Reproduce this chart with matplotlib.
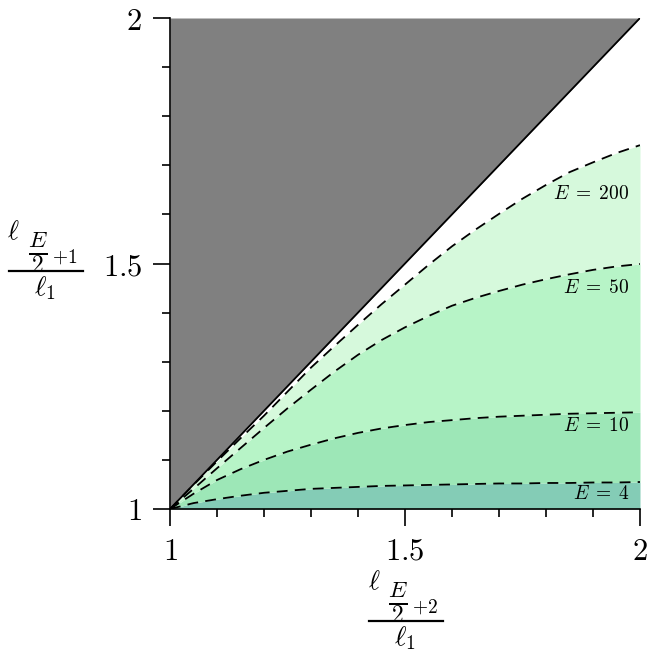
import numpy as np
import matplotlib.pyplot as plt
from matplotlib.ticker import MultipleLocator
from matplotlib.lines import Line2D

plt.rcParams['mathtext.fontset'] = 'cm'

# values
x_pts = [1.0, 1.05, 1.1, 1.15, 1.2, 1.25, 1.3, 1.35, 1.4, 1.45, 1.5, 1.55, 1.6,
         1.65, 1.7, 1.75, 1.8, 1.85, 1.9, 1.95, 2.0]
E4 = [1.0, 1.012, 1.020, 1.027, 1.033, 1.037, 1.041, 1.043, 1.045, 1.047, 1.048,
      1.049, 1.050, 1.051, 1.052, 1.052, 1.053, 1.053, 1.054, 1.054, 1.055]
E10 = [1.0, 1.031, 1.059, 1.081, 1.100, 1.117, 1.131, 1.144, 1.155, 1.164, 1.171,
       1.177, 1.181, 1.185, 1.188, 1.190, 1.192, 1.194, 1.195, 1.196, 1.197]
E50 = [1.0, 1.041, 1.083, 1.124, 1.165, 1.205, 1.243, 1.280, 1.314, 1.344, 1.370,
       1.393, 1.414, 1.430, 1.444, 1.457, 1.468, 1.478, 1.487, 1.494, 1.499]
E200 = [1.0, 1.049, 1.097, 1.144, 1.190, 1.239, 1.288, 1.332, 1.375, 1.417, 1.457,
        1.497, 1.535, 1.569, 1.601, 1.632, 1.660, 1.686, 1.706, 1.725, 1.741]
curve_labels = [r'$E\;=\;4$', r'$E\;=\;10$', r'$E\;=\;50$', r'$E\;=\;200$']
label_y = [1.031, 1.171, 1.452, 1.643]

fills = ['#84CCB6', '#9DE7B7', '#B7F4C7', '#D6F9DC']

W, H = 654, 655
x = np.array(x_pts)
curves = [np.array(c) for c in (E4, E10, E50, E200)]

fig = plt.figure(figsize=(W/100, H/100), dpi=100)
ax = fig.add_axes([170/W, 1-509/H, 470/W, 491/H])

# gray forbidden region above the diagonal
ax.fill_between(x, x, 2, color='#808080', lw=0)
ax.plot(x, x, color='black', lw=1.3)

lower = np.ones_like(x)
for c, col in zip(curves, fills):
    ax.fill_between(x, lower, c, color=col, lw=0)
    lower = c
for c in curves:
    ax.plot(x, c, color='black', lw=1.3, ls=(0, (6, 4)))

for lab, yy in zip(curve_labels, label_y):
    ax.text(1.978, yy, lab, ha='right', va='center', fontsize=14)

ax.set_xlim(1, 2)
ax.set_ylim(1, 2)
ax.spines['top'].set_visible(False)
ax.spines['right'].set_visible(False)
ax.spines['left'].set_linewidth(1.2)
ax.spines['bottom'].set_linewidth(1.2)

ax.set_xticks([1, 1.5, 2])
ax.set_yticks([1, 1.5, 2])
ax.set_xticklabels(['$1$', '$1.5$', '$2$'])
ax.set_yticklabels(['$1$', '$1.5$', '$2$'])
ax.xaxis.set_minor_locator(MultipleLocator(0.1))
ax.yaxis.set_minor_locator(MultipleLocator(0.1))
ax.tick_params(which='major', direction='out', length=12, width=1.2, labelsize=22, pad=8)
ax.tick_params(which='minor', direction='out', length=6, width=1.2)


def frac_label(cx, cy, sub):
    # stacked label l_{E/2+k} / l_1, positioned by the centre of its bar (pixels)
    def t(dx, dy, s, size):
        fig.text((cx+dx)/W, 1-(cy+dy)/H, s, ha='center', va='center', fontsize=size)
    t(-32, -39, r'$\ell$', 19)
    t(-8, -19, r'$\frac{E}{2}$', 24)
    t(19, -14, r'$+%s$' % sub, 14)
    t(-1, 17, r'$\ell_1$', 20)
    fig.add_artist(Line2D([(cx-37)/W, (cx+37)/W], [1-cy/H, 1-cy/H],
                          transform=fig.transFigure, color='black', lw=1.6))


frac_label(406, 621, '2')
frac_label(45.5, 271, '1')

fig.savefig('out.png', dpi=100)
